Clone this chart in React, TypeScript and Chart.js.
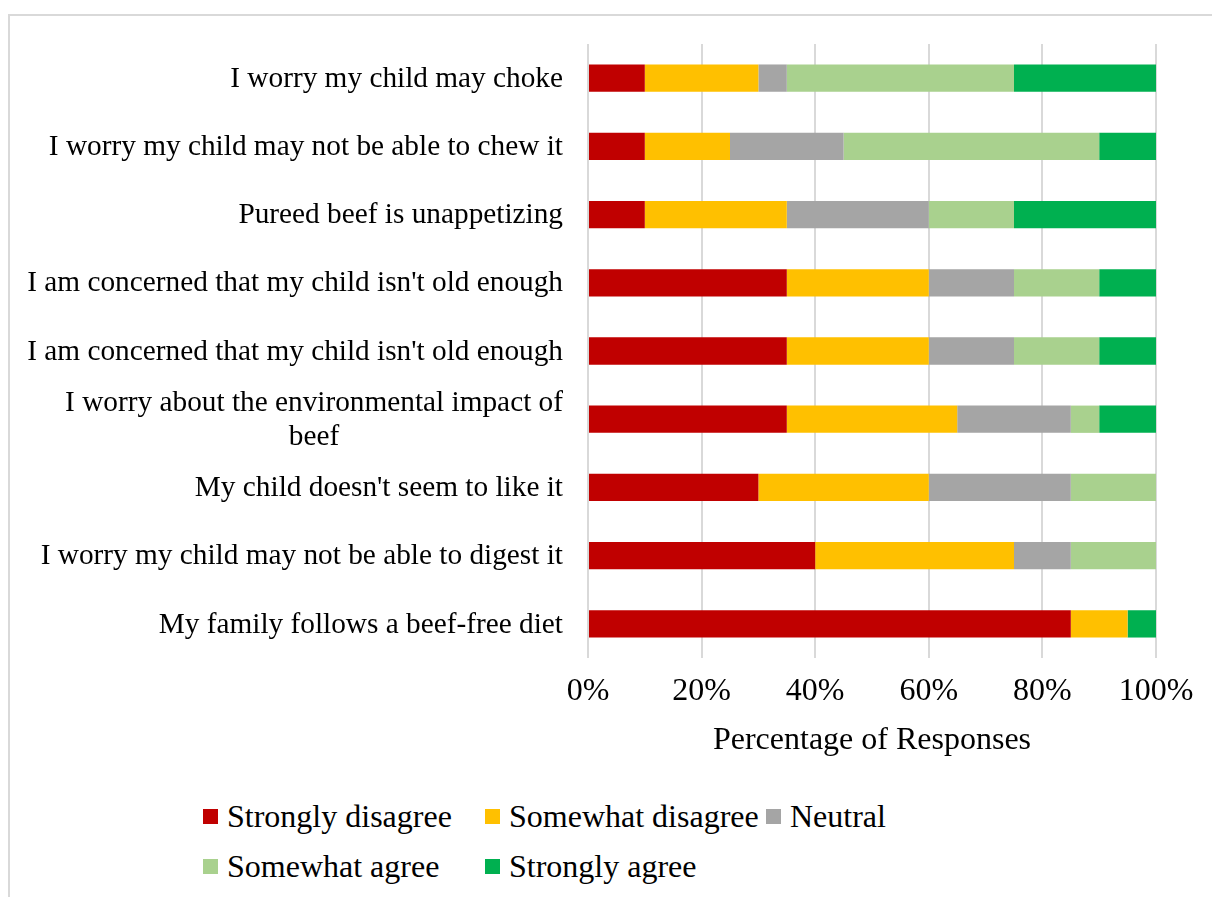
import React, { useEffect, useRef } from "react";
import { Chart, registerables } from "chart.js";

Chart.register(...registerables);

const categories: (string | string[])[] = [
  "I worry my child may choke",
  "I worry my child may not be able to chew it",
  "Pureed beef is unappetizing",
  "I am concerned that my child isn't old enough",
  "I am concerned that my child isn't old enough",
  ["I worry about the environmental impact of", "beef"],
  "My child doesn't seem to like it",
  "I worry my child may not be able to digest it",
  "My family follows a beef-free diet",
];

const seriesNames = [
  "Strongly disagree",
  "Somewhat disagree",
  "Neutral",
  "Somewhat agree",
  "Strongly agree",
];

const stronglyDisagree = [10, 10, 10, 35, 35, 35, 30, 40, 85];
const somewhatDisagree = [20, 15, 25, 25, 25, 30, 30, 35, 10];
const neutral = [5, 20, 25, 15, 15, 20, 25, 10, 0];
const somewhatAgree = [40, 45, 15, 15, 15, 5, 15, 15, 0];
const stronglyAgree = [25, 10, 25, 10, 10, 10, 0, 0, 5];

const seriesColors = ["#C00000", "#FFC000", "#A5A5A5", "#A9D18E", "#00B050"];
const seriesValues = [stronglyDisagree, somewhatDisagree, neutral, somewhatAgree, stronglyAgree];

const xTicks = [0, 20, 40, 60, 80, 100];
const axisTitle = "Percentage of Responses";

const FONT = "'Liberation Serif', 'Times New Roman', serif";

export default function App() {
  const ref = useRef<HTMLCanvasElement | null>(null);

  useEffect(() => {
    const canvas = ref.current;
    if (!canvas) return;

    const catLabelPlugin = {
      id: "catLabels",
      afterDraw(chart: any) {
        const ctx = chart.ctx;
        const yScale = chart.scales.y;
        const rightEdge = chart.chartArea.left - 25;
        ctx.save();
        ctx.font = `29.3px ${FONT}`;
        ctx.fillStyle = "#000";
        ctx.textBaseline = "middle";
        const lineH = 34;
        categories.forEach((lab, i) => {
          const lines = Array.isArray(lab) ? lab : [lab];
          const y = yScale.getPixelForTick(i) + 1;
          const widths = lines.map((l) => ctx.measureText(l).width);
          const maxW = Math.max(...widths);
          const cx = rightEdge - maxW / 2;
          const y0 = y - ((lines.length - 1) * lineH) / 2;
          ctx.textAlign = "center";
          lines.forEach((l, k) => {
            ctx.fillText(l, cx, y0 + k * lineH);
          });
        });
        ctx.restore();
      },
    };

    const chart = new Chart(canvas, {
      type: "bar",
      data: {
        labels: categories.map((c) => (Array.isArray(c) ? c.join(" ") : c)),
        datasets: seriesNames.map((name, i) => ({
          label: name,
          data: seriesValues[i],
          backgroundColor: seriesColors[i],
          borderWidth: 0,
          categoryPercentage: 1,
          barPercentage: 0.4,
        })),
      },
      options: {
        indexAxis: "y",
        animation: false,
        responsive: false,
        devicePixelRatio: 1,
        layout: { padding: { left: 0, right: 56, top: 44, bottom: 0 } },
        plugins: {
          legend: { display: false },
          tooltip: { enabled: false },
        },
        scales: {
          x: {
            stacked: true,
            min: 0,
            max: 100,
            afterBuildTicks(scale: any) {
              scale.ticks = xTicks.map((v) => ({ value: v }));
            },
            afterFit(scale: any) {
              scale.height = 122;
            },
            grid: { color: "#D9D9D9", lineWidth: 2, drawTicks: false },
            border: { display: false },
            ticks: {
              padding: 14,
              color: "#000",
              font: { family: FONT, size: 32 },
              callback: (v: any) => `${v}%`,
            },
            title: {
              display: true,
              text: axisTitle,
              color: "#000",
              font: { family: FONT, size: 32 },
              padding: { top: 0, bottom: 20 },
            },
          },
          y: {
            stacked: true,
            afterFit(scale: any) {
              scale.width = 588;
            },
            grid: { display: false, drawTicks: false },
            border: { display: false },
            ticks: { display: false },
          },
        },
      },
      plugins: [catLabelPlugin],
    } as any);

    return () => chart.destroy();
  }, []);

  const colX = [203, 485, 766];
  const rowY = [816, 866];

  return (
    <div
      style={{
        position: "fixed",
        left: 0,
        top: 0,
        width: 1212,
        height: 897,
        background: "#fff",
        overflow: "hidden",
      }}
    >
      <div
        style={{
          position: "absolute",
          left: 8,
          top: 14,
          width: 1212,
          height: 900,
          borderTop: "2px solid #D9D9D9",
          borderLeft: "2px solid #D9D9D9",
          boxSizing: "border-box",
        }}
      />
      <canvas
        ref={ref}
        width={1212}
        height={780}
        style={{ position: "absolute", left: 0, top: 0, width: 1212, height: 780 }}
      />
      {seriesNames.map((name, i) => {
        const col = i % 3;
        const row = Math.floor(i / 3);
        return (
          <div
            key={name}
            style={{
              position: "absolute",
              left: colX[col],
              top: rowY[row] - 20,
              height: 40,
              display: "flex",
              alignItems: "center",
              fontFamily: FONT,
              fontSize: 32,
              color: "#000",
              whiteSpace: "nowrap",
            }}
          >
            <span
              style={{
                display: "inline-block",
                width: 15,
                height: 15,
                background: seriesColors[i],
                marginRight: 9,
              }}
            />
            <span>{name}</span>
          </div>
        );
      })}
    </div>
  );
}
